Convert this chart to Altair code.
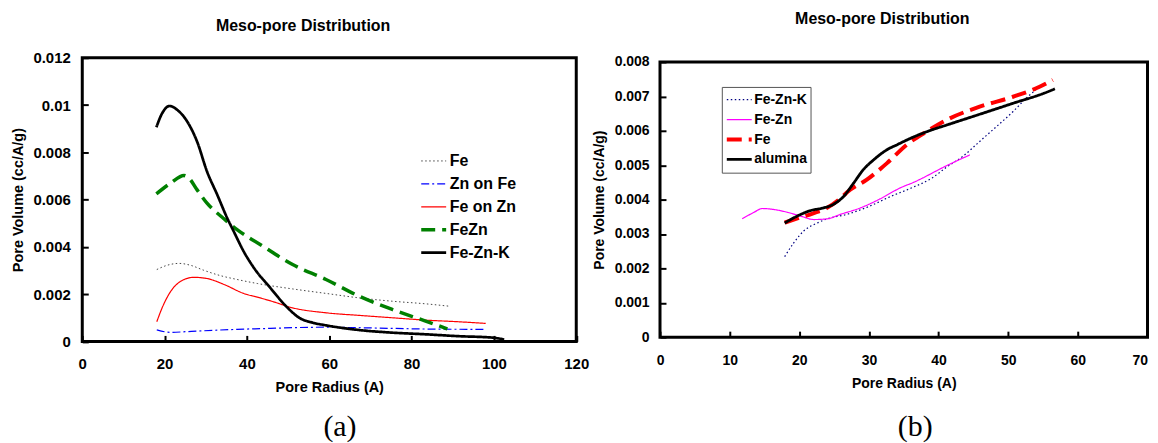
import altair as alt
import pandas as pd

FONT = "Liberation Sans"
SERIF = "Liberation Serif"

# ---------------- Panel (a) data ----------------
a_series = ["Fe", "Zn on Fe", "Fe on Zn", "FeZn", "Fe-Zn-K"]
a_colors = ["#444444", "#0000ff", "#ff0000", "#008000", "#000000"]
a_dashes = [[1.5, 2.5], [8, 3, 2, 3], [1, 0], [14, 7], [1, 0]]
a_widths = [1, 1.2, 1.2, 3.5, 2.7]

a_fe_x = [18.1, 20.6, 23.5, 26.3, 29.5, 33.6, 37.6, 42.5, 51.1, 59.2, 67.3, 75.3, 83.4, 89.1]
a_fe_y = [0.00304, 0.00322, 0.00330, 0.00322, 0.00301, 0.00278, 0.00262, 0.00245,
          0.00222, 0.00203, 0.00184, 0.00170, 0.00159, 0.00149]

a_znfe_x = [18.1, 21.5, 25.0, 29.5, 37.6, 45.7, 51.1, 59.2, 67.0, 75.3, 85.0, 98.0]
a_znfe_y = [0.00049, 0.00038, 0.00041, 0.00045, 0.00051, 0.00055, 0.00058, 0.00060,
            0.00058, 0.00055, 0.00052, 0.00051]

a_fezn_x = [18.1, 19.4, 21.5, 23.9, 27.1, 30.3, 34.4, 39.2, 43.0, 46.0, 51.1, 59.2,
            67.3, 75.3, 83.4, 91.5, 98.0]
a_fezn_y = [0.00083, 0.00142, 0.00212, 0.00254, 0.00271, 0.00266, 0.00241, 0.00203,
            0.00185, 0.00170, 0.00142, 0.00121, 0.00110, 0.00100, 0.00090, 0.00083, 0.00076]

a_fezn2_x = [18.0, 21.5, 24.7, 25.9, 27.9, 30.3, 34.4, 37.6, 43.3, 51.1, 59.2, 67.3,
             75.3, 83.4, 88.7]
a_fezn2_y = [0.00624, 0.00670, 0.00702, 0.00691, 0.00641, 0.00585, 0.00519, 0.00473,
             0.00409, 0.00325, 0.00262, 0.00191, 0.00135, 0.00086, 0.00053]

a_fznk_x = [18.0, 19.4, 21.2, 23.1, 25.5, 27.9, 30.3, 32.8, 35.2, 36.8, 39.2, 41.7,
            45.7, 49.5, 52.7, 56.0, 59.2, 67.3, 75.3, 83.4, 91.5, 99.6, 102.5]
a_fznk_y = [0.00906, 0.00965, 0.00996, 0.00979, 0.00930, 0.00845, 0.00719, 0.00620,
            0.00522, 0.00465, 0.00381, 0.00311, 0.00226, 0.00149, 0.00100, 0.00079,
            0.00068, 0.00048, 0.00037, 0.00030, 0.00022, 0.00016, 0.00008]

a_xticks = [0, 20, 40, 60, 80, 100, 120]
a_yticks = [0, 0.002, 0.004, 0.006, 0.008, 0.010, 0.012]

# ---------------- Panel (b) data ----------------
b_series = ["Fe-Zn-K", "Fe-Zn", "Fe", "alumina"]
b_colors = ["#000080", "#ff00ff", "#ff0000", "#000000"]
b_dashes = [[1.5, 2.5], [1, 0], [15, 7], [1, 0]]
b_widths = [1.2, 1.2, 4, 2.8]

b_fznk_x = [17.9, 19.2, 20.6, 22.6, 24.0, 27.0, 30.0, 33.0, 36.0, 39.0, 41.2, 43.5,
            45.9, 48.3, 50.7, 52.6, 54.5]
b_fznk_y = [0.00234, 0.00274, 0.00308, 0.00332, 0.00344, 0.00358, 0.00380, 0.00408,
            0.00433, 0.00462, 0.00495, 0.00526, 0.00569, 0.00612, 0.00656, 0.00695, 0.00728]

b_fezn_x = [11.8, 13.5, 14.7, 16.4, 18.3, 20.2, 22.1, 24.0, 25.9, 28.8, 31.6, 34.5,
            36.4, 41.2, 44.5]
b_fezn_y = [0.00344, 0.00363, 0.00374, 0.00371, 0.00363, 0.00352, 0.00342, 0.00344,
            0.00357, 0.00376, 0.00402, 0.00434, 0.00450, 0.00499, 0.00530]

b_fe_x = [17.9, 20.0, 22.0, 24.0, 26.0, 26.9, 29.7, 32.6, 35.4, 38.3, 41.2, 45.9,
          50.7, 54.5, 56.4]
b_fe_y = [0.00333, 0.00347, 0.00360, 0.00376, 0.00405, 0.00422, 0.00458, 0.00506,
          0.00559, 0.00598, 0.00632, 0.00670, 0.00699, 0.00728, 0.00748]

b_alu_x = [17.9, 19.7, 21.6, 23.5, 24.9, 26.4, 27.8, 29.2, 30.7, 32.6, 34.0, 36.4,
           38.8, 41.2, 45.9, 50.7, 55.5, 56.7]
b_alu_y = [0.00332, 0.00352, 0.00368, 0.00376, 0.00386, 0.00410, 0.00448, 0.00487,
           0.00516, 0.00545, 0.00559, 0.00582, 0.00601, 0.00617, 0.00648, 0.00680,
           0.00712, 0.00722]

b_xticks = [0, 10, 20, 30, 40, 50, 60, 70]
b_yticks = [0, 0.001, 0.002, 0.003, 0.004, 0.005, 0.006, 0.007, 0.008]

title_text = "Meso-pore Distribution"
x_title = "Pore Radius (A)"
y_title = "Pore Volume (cc/A/g)"

TICK = 6  # inward tick length


def long_df(names, xs_list, ys_list):
    rows = []
    for name, xs, ys in zip(names, xs_list, ys_list):
        for x, y in zip(xs, ys):
            rows.append({"series": name, "x": x, "y": y})
    return pd.DataFrame(rows)


df_a = long_df(a_series, [a_fe_x, a_znfe_x, a_fezn_x, a_fezn2_x, a_fznk_x],
               [a_fe_y, a_znfe_y, a_fezn_y, a_fezn2_y, a_fznk_y])
df_b = long_df(b_series, [b_fznk_x, b_fezn_x, b_fe_x, b_alu_x],
               [b_fznk_y, b_fezn_y, b_fe_y, b_alu_y])


def panel(df, series, colors, dashes, widths, xdom, ydom, xticks, yticks,
          W, H, fs_tick, fs_title, x_lab_pad, y_lab_pad, x_title_y, y_title_x,
          legend, title_pos, caption, cap_pos, flush_last):
    common = dict(grid=False, domain=False, ticks=True, tickSize=TICK, tickWidth=2,
                  tickColor="black", offset=-TICK, labelFont=FONT, labelFontSize=fs_tick,
                  labelFontWeight="bold", labelColor="black", labelFlush=False,
                  labelOverlap=False, titleFont=FONT, titleFontSize=fs_title,
                  titleFontWeight="bold", titleColor="black", titleBaseline="middle")
    extra = {}
    if flush_last:
        # keep the last x label inside the page width
        extra["labelAlign"] = {"condition": {"test": f"datum.value >= {xticks[-1]}",
                                             "value": "right"}, "value": "center"}
    ax_x = alt.Axis(values=xticks, format="d", labelPadding=x_lab_pad,
                    titleY=x_title_y + TICK, **extra, **common)
    ax_y = alt.Axis(values=yticks, format="~g", labelPadding=y_lab_pad,
                    titleX=y_title_x - TICK, titleY=H / 2, titleAngle=270,
                    titleAlign="center", **common)
    xs = alt.Scale(domain=xdom, nice=False, zero=False)
    ys = alt.Scale(domain=ydom, nice=False, zero=False)
    lines = alt.Chart(df).mark_line(interpolate="monotone").encode(
        x=alt.X("x:Q", scale=xs, axis=ax_x, title=x_title),
        y=alt.Y("y:Q", scale=ys, axis=ax_y, title=y_title),
        color=alt.Color("series:N", scale=alt.Scale(domain=series, range=colors),
                        legend=legend, title=None),
        strokeDash=alt.StrokeDash("series:N", scale=alt.Scale(domain=series, range=dashes),
                                  legend=legend, title=None),
        strokeWidth=alt.StrokeWidth("series:N",
                                    scale=alt.Scale(type="ordinal", domain=series, range=widths),
                                    legend=legend, title=None),
    )
    ttl = alt.Chart(pd.DataFrame({"t": [title_text]})).mark_text(
        font=FONT, fontSize=16, fontWeight="bold", color="black", align="center",
        baseline="middle").encode(text="t:N", x=alt.value(title_pos[0]), y=alt.value(title_pos[1]))
    cap = alt.Chart(pd.DataFrame({"t": [caption]})).mark_text(
        font=SERIF, fontSize=30, color="black", align="center",
        baseline="middle").encode(text="t:N", x=alt.value(cap_pos[0]), y=alt.value(cap_pos[1]))
    return alt.layer(lines, ttl, cap).properties(width=W, height=H)


leg_a = alt.Legend(orient="none", legendX=338, legendY=92, symbolType="stroke",
                   symbolSize=625, labelFont=FONT, labelFontSize=16, labelFontWeight="bold",
                   labelColor="black", labelOffset=1.5, clipHeight=23, rowPadding=0, padding=0)
leg_b = alt.Legend(orient="none", legendX=62, legendY=25, symbolType="stroke",
                   symbolSize=625, labelFont=FONT, labelFontSize=14, labelFontWeight="bold",
                   labelColor="black", labelOffset=0.5, clipHeight=19.5, rowPadding=0, padding=3,
                   strokeColor="#555555", fillColor="white")

left = panel(df_a, a_series, a_colors, a_dashes, a_widths, [0, 120], [0, 0.012],
             a_xticks, a_yticks, 495.5, 284.5, 15, 14.5, 15, 12, 46, -63.5,
             leg_a, (221.5, -31.5), "(a)", (258.5, 370.5), False)
right = panel(df_b, b_series, b_colors, b_dashes, b_widths, [0, 70], [0, 0.008],
              b_xticks, b_yticks, 489, 276, 14, 14, 16, 11, 46, -61,
              leg_b, (223, -42.75), "(b)", (256, 366), True)

chart = alt.hconcat(left, right, spacing=83.5, bounds="flush", center=True).resolve_scale(
    color="independent", strokeDash="independent", strokeWidth="independent"
).resolve_legend(
    color="independent", strokeDash="independent", strokeWidth="independent"
).properties(
    padding={"left": 1.5, "top": 1, "right": 0, "bottom": 0}
).configure_view(stroke="black", strokeWidth=3)

chart.save("out.html", embed_options={"renderer": "svg", "actions": False})
